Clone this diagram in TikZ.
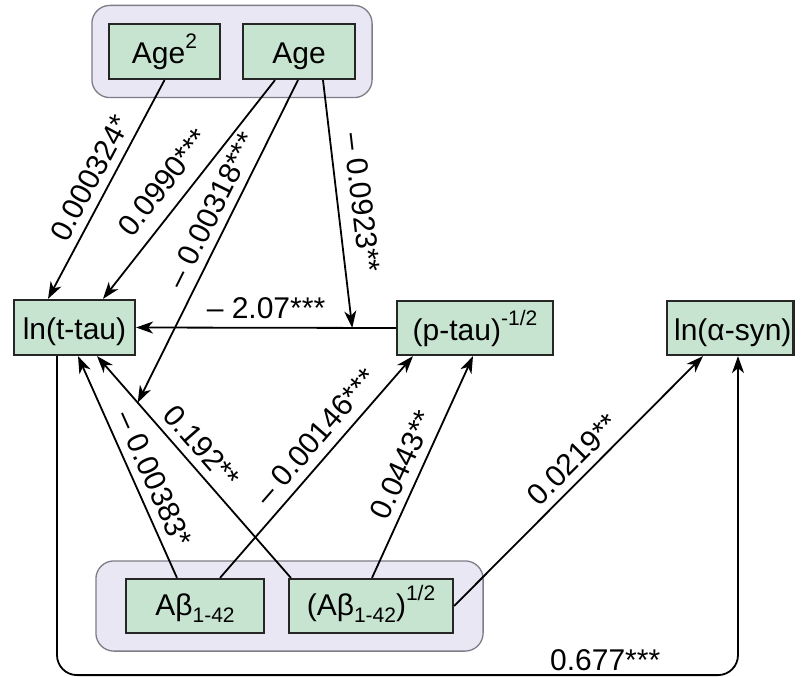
\documentclass[tikz,border=0pt]{standalone}
\usepackage{fontspec}
\setmainfont{Liberation Sans}
\usetikzlibrary{arrows.meta,calc,fit,backgrounds}
\definecolor{boxgreen}{RGB}{199,228,208}
\definecolor{grpfill}{RGB}{234,231,244}
\definecolor{grpline}{RGB}{125,125,135}
\newcommand{\mysup}[1]{\raisebox{15pt}{\fontsize{21}{21}\selectfont #1}}
\newcommand{\mysub}[1]{\raisebox{-7pt}{\fontsize{21}{21}\selectfont #1}}
\begin{document}
\begin{tikzpicture}[x=1pt,y=-1pt,
  font=\fontsize{30}{36}\selectfont,
  box/.style={draw=black!85, line width=2.2pt, fill=boxgreen, inner sep=0pt, text height=24pt, text depth=0pt},
  grp/.style={draw=grpline, line width=1.3pt, fill=grpfill, rounded corners=18pt},
  arr/.style={line width=1.8pt, -{Stealth[length=17pt,width=12pt,inset=5pt]}},
  lab/.style={sloped, above=2pt, inner sep=6pt}]
\useasboundingbox (0,0) rectangle (801,677);

% boxes
\node[box, minimum width=111pt, minimum height=55pt] (age2) at (164.5,51.5) {Age\mysup{2}};
\node[box, minimum width=112pt, minimum height=55pt] (age) at (299,51.5) {Age};
\node[box, minimum width=121pt, minimum height=55pt] (tt) at (74.5,327.5) {ln(t-tau)};
\node[box, minimum width=156pt, minimum height=54pt] (pt) at (475,328) {(p-tau)\mysup{-1/2}};
\node[box, minimum height=54pt, anchor=west, inner xsep=2pt] (as) at (666,328) {\,ln(α-syn)\hspace{22pt}};
\node[box, minimum width=138pt, minimum height=54pt, text height=18pt] (ab) at (195,606) {Aβ\mysub{1-42}};
\node[box, minimum width=164pt, minimum height=54pt, text height=18pt] (abh) at (371,606) {(Aβ\mysub{1-42})\mysup{1/2}};

% groups
\begin{scope}[on background layer]
\node[grp, fit=(age2)(age), inner xsep=16pt, inner ysep=17.5pt] (topgrp) {};
\node[grp, fit=(ab)(abh), inner xsep=29pt, inner ysep=17pt] (botgrp) {};
\end{scope}

% connectors
\draw[arr] ($(abh.north west)+(3,0)$) -- coordinate[pos=0.79] (m1) node[lab, pos=0.534] {0.192**} ($(tt.south)+(22.5,0)$);
\draw[arr] (pt.west) -- coordinate[pos=0.168] (m2) node[lab, pos=0.5] {– 2.07***} (tt.east);
\draw[arr] (age2.south) -- node[lab, pos=0.49] {0.000324*} ($(tt.north)+(-26.5,0)$);
\draw[arr] ($(age.south)+(-24,0)$) -- node[lab, pos=0.537, above=5pt] {0.0990***} ($(tt.north)+(28.5,0)$);
\draw[arr] ($(age.south)+(-1,0)$) -- node[lab, pos=0.43] {– 0.00318***} (m1);
\draw[arr] ($(age.south)+(24,0)$) -- node[lab, pos=0.506, above=5pt] {– 0.0923**} (m2);
\draw[arr] ($(ab.north)+(-18,0)$) -- node[lab, pos=0.41, above=0pt] {– 0.00383*} ($(tt.south)+(3.5,0)$);
\draw[arr] ($(ab.north)+(25,0)$) -- node[lab, pos=0.576, above=1pt] {– 0.00146***} ($(pt.south)+(-62,0)$);
\draw[arr] ($(abh.north)+(1,0)$) -- node[lab, pos=0.474] {0.0443**} ($(pt.south)+(-2,0)$);
\draw[arr] (abh.east) -- node[lab, pos=0.532] {0.0219**} ($(as.south west)+(37,0)$);
\draw[arr, rounded corners=20pt] ($(tt.south)+(-17.5,0)$) -- ++(0,319) -| node[pos=0.4025, above, inner sep=3pt] {0.677***} ($(as.south west)+(72,0)$);
\end{tikzpicture}
\end{document}
